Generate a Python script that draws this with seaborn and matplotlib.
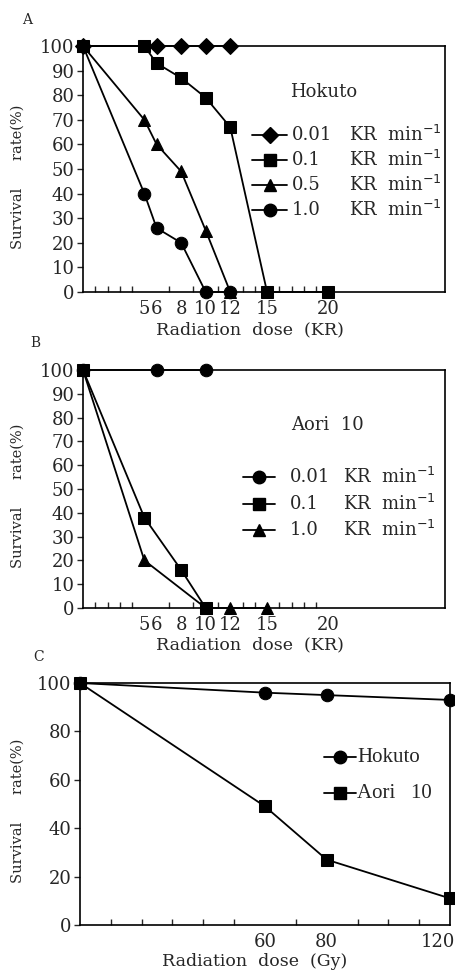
import matplotlib
matplotlib.use("Agg")
import matplotlib.pyplot as plt
import matplotlib.transforms as mtransforms
import numpy as np
import pandas as pd
import seaborn as sns

# panel A: Hokuto, dose rate series (dose in KR, survival in %)
a_rates = ["0.01", "0.1", "0.5", "1.0"]
a_markers = ["D", "s", "^", "o"]
a_dose = [
    [0, 6, 8, 10, 12],
    [0, 5, 6, 8, 10, 12, 15, 20],
    [0, 5, 6, 8, 10, 12],
    [0, 5, 6, 8, 10, 12],
]
a_surv = [
    [100, 100, 100, 100, 100],
    [100, 100, 93, 87, 79, 67, 0, 0],
    [100, 70, 60, 49, 25, 0],
    [100, 40, 26, 20, 0, 0],
]

# panel B: Aori 10
b_rates = ["0.01", "0.1", "1.0"]
b_markers = ["o", "s", "^"]
b_dose = [
    [0, 6, 10],
    [0, 5, 8, 10],
    [0, 5, 10, 12, 15],
]
b_surv = [
    [100, 100, 100],
    [100, 38, 16, 0],
    [100, 20, 0, 0, 0],
]

# panel C: Gy
c_names = ["Hokuto", "Aori   10"]
c_markers = ["o", "s"]
c_dose = [[0, 60, 80, 120], [0, 60, 80, 120]]
c_surv = [[100, 96, 95, 93], [100, 49, 27, 11]]

kr_ticks = [5, 6, 8, 10, 12, 15, 20]
gy_ticks = [60, 80, 120]
unit = r"KR  min$^{-1}$"

sns.set_theme(style="white")
plt.rcParams["font.family"] = ["DejaVu Serif"]
plt.rcParams["axes.edgecolor"] = "black"
plt.rcParams["axes.linewidth"] = 1.2

fig = plt.figure(figsize=(4.56, 9.76), dpi=100)
W, H = 456.0, 976.0


def box(l, t, r, b):
    return [l / W, 1 - b / H, (r - l) / W, (b - t) / H]


def msize(m):
    return 8.5 if m == "D" else 9


def draw(ax, doses, survs, markers):
    for d, s, m in zip(doses, survs, markers):
        df = pd.DataFrame({"dose": d, "surv": s})
        sns.lineplot(data=df, x="dose", y="surv", ax=ax, color="black", lw=1.3,
                     marker=m, markersize=msize(m), markeredgecolor="black",
                     markerfacecolor="black", clip_on=False, zorder=3)


def style(ax, xmax, yticks, xticks, xminor, ylab_x):
    ax.set_xlim(0, xmax)
    ax.set_ylim(0, 100)
    ax.set_yticks(yticks)
    ax.set_xticks(xticks)
    ax.set_xticks(xminor, minor=True)
    ax.tick_params(axis="y", direction="out", length=4, width=1, labelsize=13, pad=2, left=True)
    ax.tick_params(axis="x", which="both", direction="in", length=4, width=1, labelsize=13, pad=6, bottom=True)
    ax.tick_params(axis="x", which="major", length=0)
    for sp in ax.spines.values():
        sp.set_visible(True)
        sp.set_color("black")
    ax.set_ylabel("Survival      rate(%)", fontsize=10.5)
    ax.yaxis.set_label_coords(ylab_x, 0.47)


def legend_rows(ax, markers, labels, hx0, hx1, tx, ux, y0, dy, fs=13, family=None):
    # hand-made legend rows: short line with marker, label, unit column
    for i, (m, lab) in enumerate(zip(markers, labels)):
        y = y0 - i * dy
        ax.plot([hx0, (hx0 + hx1) / 2, hx1], [y, y, y], transform=ax.transAxes, color="black",
                lw=1.3, marker=m, markersize=msize(m), markevery=[1], clip_on=False)
        kw = {"family": family} if family else {}
        ax.text(tx, y, lab, transform=ax.transAxes, fontsize=fs, va="center", **kw)
        if ux is not None:
            ax.text(ux, y, unit, transform=ax.transAxes, fontsize=fs, va="center")


# ---- A
axA = fig.add_axes(box(83, 46, 445, 292))
draw(axA, a_dose, a_surv, a_markers)
style(axA, 29.5, np.arange(0, 101, 10), kr_ticks, np.arange(1, 21), (25 - 83) / 362)
axA.set_xlabel("Radiation  dose  (KR)", fontsize=12.5)
axA.xaxis.set_label_coords(0.46, -0.12)
axA.text(0.666, 0.813, "Hokuto", transform=axA.transAxes, fontsize=13, ha="center", va="center")
legend_rows(axA, a_markers, a_rates, 0.467, 0.564, 0.578, 0.735, 0.64, 0.1016)
fig.text(22 / W, 1 - 20 / H, "A", fontsize=10, va="center")

# ---- B
axB = fig.add_axes(box(83, 370, 445, 608))
draw(axB, b_dose, b_surv, b_markers)
style(axB, 29.5, np.arange(0, 101, 10), kr_ticks, np.arange(1, 21), (25 - 83) / 362)
axB.set_xlabel("Radiation  dose  (KR)", fontsize=12.5)
axB.xaxis.set_label_coords(0.46, -0.12)
axB.text(0.675, 0.769, "Aori  10", transform=axB.transAxes, fontsize=13, ha="center", va="center")
legend_rows(axB, b_markers, b_rates, 0.442, 0.53, 0.572, 0.718, 0.55, 0.111)
fig.text(30 / W, 1 - 343 / H, "B", fontsize=10, va="center")

# ---- C
axC = fig.add_axes(box(80, 683, 450, 925))
draw(axC, c_dose, c_surv, c_markers)
style(axC, 120, np.arange(0, 101, 20), gy_ticks, np.arange(10, 120, 10), (25 - 80) / 370)
axC.set_xlabel("Radiation  dose  (Gy)", fontsize=12.5)
axC.xaxis.set_label_coords(0.473, -0.115)
legend_rows(axC, c_markers, c_names, 0.659, 0.746, 0.75, None, 0.694, 0.149,
            fs=15, family="Liberation Serif")
# last tick label sits against the page edge; nudge it left a little
lbl = axC.get_xticklabels()[-1]
lbl.set_transform(lbl.get_transform() + mtransforms.ScaledTranslation(-12 / 100, 0, fig.dpi_scale_trans))
fig.text(33 / W, 1 - 657 / H, "C", fontsize=10, va="center")

fig.savefig("out.png", dpi=100)
